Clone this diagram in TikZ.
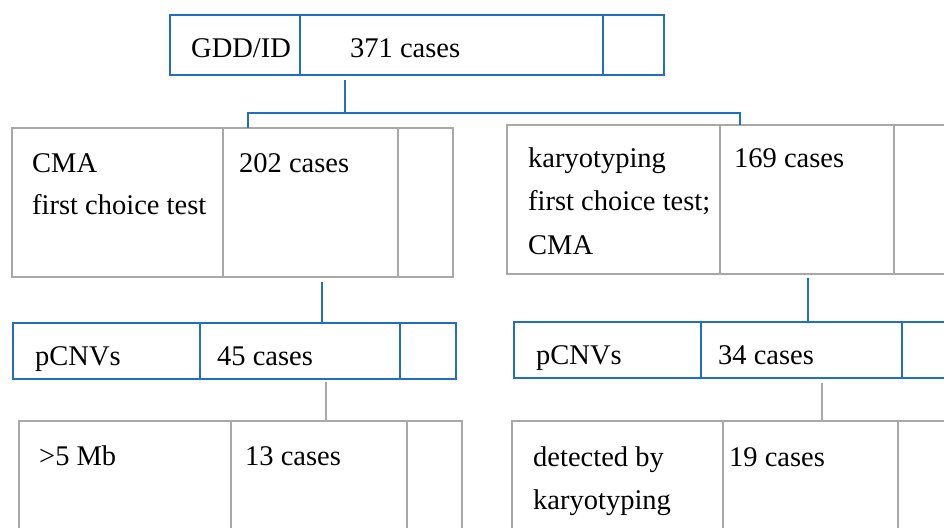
\documentclass[tikz,border=0pt]{standalone}
\usepackage{fontspec}
\setmainfont{Liberation Serif}
\definecolor{bl}{RGB}{31,111,196}
\definecolor{gr}{RGB}{168,168,168}
\begin{document}
\begin{tikzpicture}[x=1pt,y=-1pt,
  bbox/.style={draw=bl,line width=2pt,inner sep=0,outer sep=0,anchor=north west},
  gbox/.style={draw=gr,line width=2.5pt,inner sep=0,outer sep=0,anchor=north west},
  bdiv/.style={draw=bl,line width=2pt},
  gdiv/.style={draw=gr,line width=2.5pt},
  bcon/.style={draw=bl,line width=1.3pt},
  gcon/.style={draw=gr,line width=1.3pt},
  txt/.style={anchor=base west,inner sep=0,font=\fontsize{28.5}{43.5}\selectfont},
]
\useasboundingbox (0,0) rectangle (944,527);
\fill[white] (0,0) rectangle (944,527);

% boxes
\node[bbox,minimum width=494pt,minimum height=60pt] (top) at (170,15) {};
\draw[bdiv] (300,15) -- (300,75);
\draw[bdiv] (603,15) -- (603,75);

\node[gbox,minimum width=441pt,minimum height=149pt] (l2) at (12,128) {};
\draw[gdiv] (223,128) -- (223,277);
\draw[gdiv] (398,128) -- (398,277);

\node[gbox,minimum width=470pt,minimum height=149pt] (r2) at (507,125) {};
\draw[gdiv] (720,125) -- (720,274);
\draw[gdiv] (894,125) -- (894,274);

\node[bbox,minimum width=443pt,minimum height=56pt] (l3) at (13,323) {};
\draw[bdiv] (200,323) -- (200,379);
\draw[bdiv] (400,323) -- (400,379);

\node[bbox,minimum width=470pt,minimum height=56pt] (r3) at (514,322) {};
\draw[bdiv] (701,322) -- (701,378);
\draw[bdiv] (902,322) -- (902,378);

\node[gbox,minimum width=443pt,minimum height=130pt] (l4) at (19,421) {};
\draw[gdiv] (231,421) -- (231,551);
\draw[gdiv] (407,421) -- (407,551);

\node[gbox,minimum width=470pt,minimum height=130pt] (r4) at (512,421) {};
\draw[gdiv] (723,421) -- (723,551);
\draw[gdiv] (898,421) -- (898,551);

% connectors
\coordinate (a0) at (345,80);
\coordinate (a1) at (345,113);
\coordinate (aL) at (248,113);
\coordinate (aR) at (740,113);
\draw[bcon] (a0) -- (a1);
\draw[bcon] (l2.north west -| aL) -- (aL) -- (aR) -- (r2.north west -| aR);

\coordinate (b0) at (322,282);
\draw[bcon] (b0) -- (l3.north west -| b0);
\coordinate (c0) at (808,278);
\draw[bcon] (c0) -- (r3.north west -| c0);

\coordinate (d0) at (326,382);
\draw[gcon] (d0) -- (l4.north west -| d0);
\coordinate (e0) at (822,383);
\draw[gcon] (e0) -- (r4.north west -| e0);

% texts
\node[txt] (t1) at (191,57) {GDD/ID};
\node[txt] (t2) at (350,57) {371 cases};

\node[txt] (t3) at (32,172) {CMA};
\node[txt] (t4) at (32,214) {first choice test};
\node[txt] (t5) at (239,172) {202 cases};

\node[txt] (t6) at (528,167) {karyotyping};
\node[txt] (t7) at (528,210) {first choice test;};
\node[txt] (t8) at (528,254) {CMA};
\node[txt] (t9) at (734,167) {169 cases};

\node[txt] (t10) at (35,365) {pCNVs};
\node[txt] (t11) at (217,365) {45 cases};
\node[txt] (t12) at (536,364) {pCNVs};
\node[txt] (t13) at (718,364) {34 cases};

\node[txt] (t14) at (39,465) {>5 Mb};
\node[txt] (t15) at (245,465) {13 cases};
\node[txt] (t16) at (533,466) {detected by};
\node[txt] (t17) at (533,509) {karyotyping};
\node[txt] (t18) at (729,466) {19 cases};
\end{tikzpicture}
\end{document}
